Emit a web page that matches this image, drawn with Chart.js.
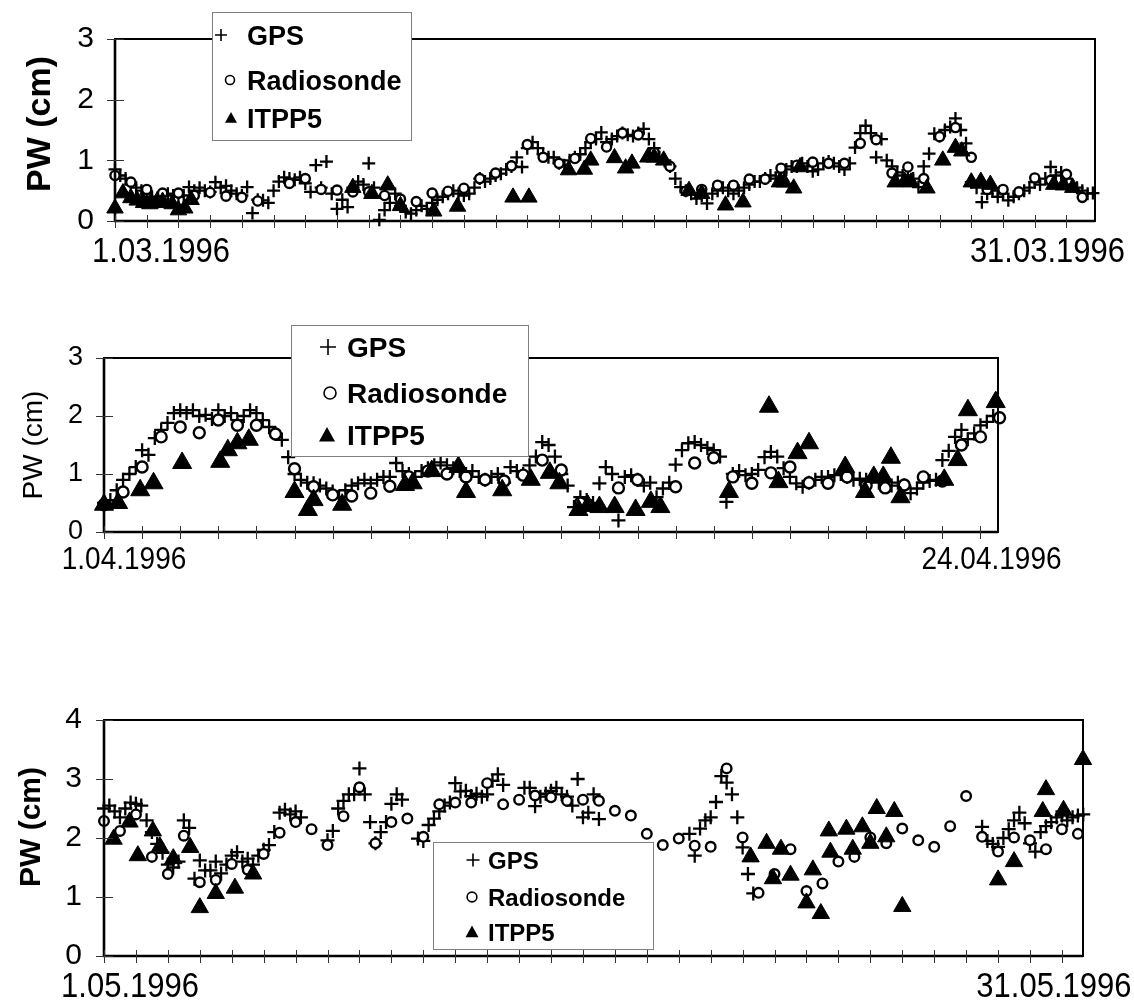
<!DOCTYPE html>
<html>
<head>
<meta charset="utf-8">
<title>PW: GPS, radiosonde and ITPP5, March-May 1996</title>
<script src="https://cdn.jsdelivr.net/npm/chart.js@4.4.1/dist/chart.umd.min.js"></script>
<style>
  html, body { margin: 0; padding: 0; background: #fff; }
  #page { position: relative; width: 1134px; height: 1003px; overflow: hidden; }
  #page canvas { position: absolute; left: 0; }
</style>
</head>
<body>
<div id="page">
  <canvas id="march" width="1134" height="290" style="top:0px"></canvas>
  <canvas id="april" width="1134" height="290" style="top:300px"></canvas>
  <canvas id="may" width="1134" height="323" style="top:680px"></canvas>
</div>
<script>
// x = days since the first of the month, y = precipitable water in cm
const GPS_STEP = 1 / 6;   // GPS solution every 4 hours
const SONDE_STEP = 0.5;   // radiosondes at 00 and 12 UTC

// ---------- March ----------
const marchGps = [
  0.85, 0.75, 0.70, 0.60, 0.55, 0.50,
  0.45, 0.40, 0.38, 0.42, 0.45, 0.42,
  0.40, 0.42, 0.56, 0.50, 0.55, 0.50,
  0.48, 0.64, 0.55, 0.58, 0.50, 0.45,
  0.42, 0.56, 0.13, 0.35, 0.34, 0.30,
  0.50, 0.65, 0.72, 0.70, 0.68, 0.72,
  0.62, 0.48, 0.92, 0.55, 0.98, 0.45,
  0.20, 0.35, 0.23, 0.55, 0.65, 0.60,
  0.95, 0.55, 0.02, 0.18, 0.30, 0.45,
  0.25, 0.15, 0.12, 0.18, 0.25, 0.20,
  0.30, 0.35, 0.40, 0.45, 0.50, 0.45,
  0.42, 0.45, 0.55, 0.70, 0.65, 0.70,
  0.75, 0.78, 0.85, 0.90, 1.05, 0.89,
  1.20, 1.30, 1.20, 1.10, 1.05, 1.05,
  0.95, 0.92, 1.00, 1.05, 1.10, 1.20,
  1.30, 1.35, 1.46, 1.30, 1.35, 1.40,
  1.45, 1.42, 1.40, 1.45, 1.52, 1.35,
  1.20, 1.05, 1.00, 0.90, 0.70, 0.56,
  0.50, 0.45, 0.37, 0.42, 0.29, 0.45,
  0.50, 0.55, 0.50, 0.45, 0.50, 0.55,
  0.60, 0.65, 0.65, 0.70, 0.75, 0.70,
  0.80, 0.85, 0.90, 0.90, 0.95, 0.90,
  0.82, 0.85, 0.95, 0.98, 0.95, 0.90,
  0.85, 0.95, 1.21, 1.45, 1.57, 1.45,
  1.05, 1.35, 1.00, 0.90, 0.80, 0.75,
  0.75, 0.70, 0.56, 0.90, 1.11, 1.44,
  1.40, 1.50, 1.55, 1.69, 1.50, 1.28,
  0.64, 0.55, 0.31, 0.45, 0.50, 0.40,
  0.45, 0.34, 0.40, 0.45, 0.50, 0.55,
  0.64, 0.60, 0.70, 0.89, 0.75, 0.80,
  0.70, 0.60, 0.55, 0.50, 0.45, 0.46
];
const marchSonde = [
  0.75, 0.64, 0.52, 0.46, 0.46, 0.42, 0.47, 0.41, 0.39, 0.33,
  null, 0.62, 0.70, 0.52, 0.51, 0.48, 0.48, 0.42, 0.36, 0.32,
  0.46, 0.49, 0.54, 0.70, 0.79, 0.91, 1.26, 1.05, 0.95, 1.03,
  1.36, 1.22, 1.45, 1.42, 1.13, 0.90, 0.49, 0.52, 0.59, 0.59,
  0.69, 0.69, 0.87, 0.92, 0.97, 0.95, 0.95, 1.28, 1.34, 0.79,
  0.89, 0.70, 1.39, 1.54, 1.05, 0.52, 0.52, 0.48, 0.71, 0.67,
  0.77, 0.39
];
const marchItppDay = [
  0, 0.25, 0.5, 0.7, 0.9, 1.1, 1.3, 1.5, 1.8, 2.0,
  2.2, 2.4, 7.5, 8.1, 8.6, 9.0, 10.05, 10.8, 12.55, 13.05,
  14.3, 14.8, 15.0, 15.75, 16.1, 16.3, 16.8, 17.0, 17.3, 18.1,
  18.5, 19.25, 19.8, 20.95, 21.1, 21.4, 21.6, 24.6, 24.9, 25.1,
  25.6, 26.1, 26.5, 26.7, 27.0, 27.3, 27.6, 29.6, 29.9, 30.2
];
const marchItpp = [
  0.21, 0.46, 0.38, 0.34, 0.30, 0.28, 0.30, 0.32, 0.28, 0.18,
  0.21, 0.35, 0.55, 0.45, 0.59, 0.25, 0.16, 0.24, 0.39, 0.39,
  0.84, 0.85, 1.00, 1.04, 0.87, 0.95, 1.05, 1.05, 1.00, 0.50,
  0.45, 0.26, 0.31, 0.64, 0.64, 0.54, 0.89, 0.64, 0.65, 0.64,
  0.54, 1.00, 1.21, 1.15, 0.64, 0.65, 0.60, 0.60, 0.59, 0.55
];
const marchTickDays = [0, 30];
const marchTickLabels = ['1.03.1996', '31.03.1996'];

// ---------- April ----------
const aprilGps = [
  0.50, 0.55, 0.72, 0.90, 1.00, 1.12,
  1.41, 1.33, 1.62, 1.76, 1.88, 2.05,
  2.10, 2.05, 2.10, 2.00, 2.02, 1.95,
  2.10, 2.00, 2.05, 1.93, 2.00, 2.10,
  2.05, 1.93, 1.81, 1.70, 1.59, 1.29,
  1.00, 0.90, 0.85, 0.84, 0.80, 0.75,
  0.70, 0.60, 0.72, 0.80, 0.84, 0.90,
  0.84, 0.90, 0.95, 0.95, 1.19, 1.05,
  1.00, 0.95, 1.05, 1.10, 1.15, 1.20,
  1.15, 1.10, 1.05, 1.00, 1.05, 0.95,
  0.90, 0.95, 1.00, 0.85, 1.12, 1.05,
  1.00, 1.15, 1.30, 1.55, 1.50, 1.30,
  1.00, 0.80, 0.43, 0.60, 0.55, 0.50,
  0.84, 1.12, 1.00, 0.20, 0.95, 0.98,
  0.90, 0.80, 0.85, 0.60, 0.75, 0.85,
  1.16, 1.41, 1.53, 1.55, 1.50, 1.45,
  1.41, 1.30, 0.52, 1.00, 1.05, 0.98,
  1.00, 1.07, 1.29, 1.38, 1.30, 1.10,
  0.95, 0.84, 0.78, 0.85, 0.90, 0.95,
  0.95, 0.98, 1.00, 0.95, 0.90, 0.92,
  0.90, 0.95, 0.85, 0.78, 0.80, 0.85,
  0.80, 0.67, 0.75, 0.85, 0.88, 0.90,
  1.24, 1.40, 1.64, 1.76, 1.60, 1.70,
  1.84, 1.90, 2.00
];
const aprilSonde = [
  0.47, 0.69, 1.12, 1.64, 1.81, 1.71, 1.93, 1.84, 1.84, 1.69,
  1.09, 0.78, 0.64, 0.62, 0.67, 0.79, 0.95, 1.05, 1.00, 0.95,
  0.90, 0.88, 0.98, 1.24, 1.07, 0.50, null, 0.76, 0.90, null,
  0.78, 1.19, 1.28, 0.95, 0.84, 1.02, 1.12, 0.85, 0.84, 0.95,
  0.80, 0.76, 0.81, 0.95, 0.88, 1.50, 1.64, 1.97
];
const aprilItppDay = [
  0, 0.37, 0.95, 1.3, 2.05, 3.05, 3.25, 3.5, 3.8, 5.0,
  5.35, 5.5, 6.25, 7.9, 8.1, 8.6, 9.3, 9.5, 10.45, 11.2,
  11.7, 11.95, 12.45, 12.7, 13.0, 13.4, 13.95, 14.35, 14.6, 16.4,
  17.45, 17.7, 18.2, 18.5, 19.45, 19.97, 20.2, 20.45, 20.65, 20.9,
  22.05, 22.4, 22.67, 23.4
];
const aprilItpp = [
  0.47, 0.50, 0.72, 0.84, 1.19, 1.21, 1.41, 1.53, 1.59, 0.69,
  0.38, 0.55, 0.47, 0.81, 0.84, 1.05, 1.12, 0.69, 0.72, 0.90,
  1.02, 0.84, 0.38, 0.45, 0.43, 0.43, 0.38, 0.52, 0.43, 0.69,
  2.16, 0.86, 1.36, 1.53, 1.12, 0.69, 0.95, 0.95, 1.28, 0.60,
  0.90, 1.24, 2.10, 2.24
];
const aprilTickDays = [0, 23];
const aprilTickLabels = ['1.04.1996', '24.04.1996'];

// ---------- May ----------
const mayGps = [
  2.50, 2.55, 2.45, 2.35, 2.50, 2.60,
  2.58, 2.55, 2.30, 2.10, 1.90, 1.75,
  1.55, 1.50, 1.60, 2.30, 2.17, 1.31,
  1.62, 1.45, 1.45, 1.60, 1.40, 1.55,
  1.70, 1.76, 1.60, 1.65, 1.55, 1.70,
  1.80, 1.88, 2.10, 2.43, 2.48, 2.40,
  2.45, 2.35, null, null, null, null,
  1.96, 2.12, 2.50, 2.63, 2.74, 2.74,
  3.18, 2.74, 2.27, 1.91, 2.10, 2.27,
  2.58, 2.74, 2.65, null, null, 1.99,
  1.95, 2.22, 2.33, 2.45, 2.55, 2.60,
  2.93, 2.79, 2.80, 2.71, 2.75, 2.70,
  2.74, 2.97, 3.08, 2.90, null, null,
  null, 2.85, 2.85, 2.54, 2.70, 2.75,
  2.80, 2.85, 2.74, 2.70, 2.55, 3.00,
  2.35, 2.43, 2.74, 2.32, null, null,
  null, null, null, null, null, null,
  null, null, null, null, null, null,
  null, null, 2.07, 1.70, 2.16, 2.30,
  2.35, 2.61, 3.05, 2.94, 2.74, 2.35,
  1.84, 1.39, 1.06, null, null, null,
  null, null, null, null, null, null,
  null, null, null, null, null, null,
  null, null, null, null, null, null,
  null, null, null, null, null, null,
  null, null, null, null, null, null,
  null, null, null, null, null, null,
  null, null, null, 2.19, 1.95, 1.90,
  1.85, 2.00, 2.15, 2.30, 2.43, 2.25,
  1.91, 1.77, 2.10, 2.20, 2.27, 2.35,
  2.38, 2.30, 2.35, 2.38, 2.40
];
const maySonde = [
  2.29, 2.12, 2.40, 1.68, 1.39, 2.04, 1.25, 1.29, 1.56, 1.46,
  1.73, 2.09, 2.27, 2.15, 1.88, 2.37, 2.86, 1.91, 2.27, 2.33,
  2.02, 2.57, 2.60, 2.60, 2.93, 2.57, 2.65, 2.72, 2.69, 2.63,
  2.65, 2.63, 2.46, 2.38, 2.07, 1.88, 1.99, 1.87, 1.85, 3.18,
  2.01, 1.07, 1.39, 1.81, 1.10, 1.23, 1.60, 1.68, 2.01, 1.91,
  2.16, 1.96, 1.85, 2.20, 2.71, 2.02, 1.77, 2.01, 1.96, 1.81,
  2.15, 2.07
];
const mayItppDay = [
  0.3, 0.8, 1.06, 1.53, 1.75, 2.17, 2.7, 3.0, 3.5, 4.1,
  4.67, 20.25, 20.75, 20.95, 21.2, 21.5, 22.0, 22.2, 22.45, 22.7,
  22.75, 23.25, 23.45, 23.75, 24.0, 24.2, 24.5, 24.75, 25.0, 28.0,
  28.5, 29.4, 29.5, 30.05, 30.66
];
const mayItpp = [
  1.98, 2.27, 1.70, 2.12, 1.85, 1.65, 1.84, 0.82, 1.06, 1.15,
  1.39, 1.68, 1.91, 1.31, 1.81, 1.37, 0.90, 1.46, 0.72, 2.12,
  1.76, 2.15, 1.81, 2.19, 1.91, 2.50, 2.02, 2.45, 0.84, 1.29,
  1.60, 2.45, 2.82, 2.47, 3.33
];
const mayTickDays = [0, 30];
const mayTickLabels = ['1.05.1996', '31.05.1996'];

const seriesNames = ['GPS', 'Radiosonde', 'ITPP5'];

// ---------- drawing ----------
const FONT = "'Liberation Sans', Arial, Helvetica, sans-serif";
Chart.defaults.font.family = FONT;
Chart.defaults.color = '#000';

function regular(values, step) {
  const pts = [];
  values.forEach((v, i) => { if (v !== null) pts.push({ x: i * step, y: v }); });
  return pts;
}
function paired(days, values) {
  return days.map((d, i) => ({ x: d, y: values[i] }));
}

function drawSymbol(ctx, style, cx, cy, s) {
  ctx.beginPath();
  if (style === 'cross') {
    ctx.lineWidth = 1.6;
    ctx.moveTo(cx - s, cy); ctx.lineTo(cx + s, cy);
    ctx.moveTo(cx, cy - s); ctx.lineTo(cx, cy + s);
    ctx.stroke();
  } else if (style === 'circle') {
    ctx.lineWidth = 1.6;
    ctx.arc(cx, cy, s * 0.75, 0, Math.PI * 2);
    ctx.stroke();
  } else {
    ctx.moveTo(cx, cy - s);
    ctx.lineTo(cx + s, cy + s * 0.8);
    ctx.lineTo(cx - s, cy + s * 0.8);
    ctx.closePath();
    ctx.fill();
  }
}

// frame, tick marks crossing the axes, axis title, date labels and the boxed legend
const panelDecor = {
  id: 'panelDecor',
  afterDraw(chart, args, o) {
    const { ctx, chartArea: a } = chart;
    const x = chart.scales.x, y = chart.scales.y;
    ctx.save();
    ctx.strokeStyle = '#000';
    ctx.lineWidth = 2;
    ctx.strokeRect(a.left, a.top, a.right - a.left, a.bottom - a.top);
    ctx.lineWidth = 2.6;
    ctx.beginPath();
    ctx.moveTo(a.left, a.top); ctx.lineTo(a.left, a.bottom); ctx.lineTo(a.right, a.bottom);
    ctx.stroke();

    ctx.lineWidth = 1;
    ctx.strokeStyle = '#333';
    ctx.beginPath();
    for (let d = Math.ceil(x.min); d <= x.max; d++) {
      const px = Math.round(x.getPixelForValue(d)) + 0.5;
      ctx.moveTo(px, a.bottom - 6); ctx.lineTo(px, a.bottom + 7);
    }
    y.ticks.forEach(t => {
      const py = Math.round(y.getPixelForValue(t.value)) + 0.5;
      ctx.moveTo(a.left - 8, py); ctx.lineTo(a.left + 9, py);
    });
    ctx.stroke();

    ctx.fillStyle = '#000';
    ctx.save();
    ctx.font = `${o.title.weight} ${o.title.size}px ${FONT}`;
    ctx.translate(o.title.x, o.title.y);
    ctx.rotate(-Math.PI / 2);
    ctx.textAlign = 'center';
    ctx.textBaseline = 'alphabetic';
    ctx.fillText('PW (cm)', 0, 0);
    ctx.restore();

    ctx.font = `${o.dates.size}px ${FONT}`;
    ctx.textAlign = 'center';
    ctx.textBaseline = 'alphabetic';
    o.dates.days.forEach((d, i) => {
      ctx.save();
      ctx.translate(x.getPixelForValue(d) + o.dates.dx[i], o.dates.baseline);
      ctx.scale(1, 1.12);
      ctx.fillText(o.dates.labels[i], 0, 0);
      ctx.restore();
    });

    const L = o.legend;
    ctx.fillStyle = '#fff';
    ctx.fillRect(L.x, L.y, L.w, L.h);
    ctx.strokeStyle = '#808080';
    ctx.lineWidth = 1;
    ctx.strokeRect(L.x + 0.5, L.y + 0.5, L.w, L.h);
    ctx.fillStyle = '#000';
    ctx.strokeStyle = '#000';
    ctx.font = `bold ${L.size}px ${FONT}`;
    ctx.textAlign = 'left';
    chart.data.datasets.forEach((ds, i) => {
      drawSymbol(ctx, ds.pointStyle, L.symX[i], L.rows[i], L.sym);
      ctx.fillText(ds.label, L.textX, L.rows[i] + 0.36 * L.size);
    });
    ctx.restore();
  }
};

function makePanel(id, gps, sonde, itpp, look) {
  const canvas = document.getElementById(id);
  const m = look.marker;
  return new Chart(canvas, {
    type: 'scatter',
    data: {
      datasets: [
        { label: seriesNames[0], data: gps, order: 2, clip: false,
          pointStyle: 'cross', pointRadius: m.cross, borderWidth: 2.3,
          borderColor: '#000', backgroundColor: '#000' },
        { label: seriesNames[1], data: sonde, order: 1, clip: false,
          pointStyle: 'circle', pointRadius: m.circle, borderWidth: 2.4,
          borderColor: '#000', backgroundColor: '#fff' },
        { label: seriesNames[2], data: itpp, order: 0, clip: false,
          pointStyle: 'triangle', pointRadius: m.triangle, borderWidth: 1,
          borderColor: '#000', backgroundColor: '#000' }
      ]
    },
    options: {
      responsive: false,
      animation: false,
      events: [],
      layout: { padding: { left: 0, top: look.area.top, right: canvas.width - look.area.right,
                           bottom: canvas.height - look.area.bottom } },
      plugins: {
        legend: { display: false },
        tooltip: { enabled: false },
        panelDecor: look.decor
      },
      scales: {
        x: { type: 'linear', display: false, min: 0, max: look.xMax },
        y: {
          min: 0, max: look.yMax,
          afterFit: s => { s.width = look.area.left; },
          grid: { display: false, drawTicks: false },
          border: { display: false },
          ticks: { stepSize: 1, padding: look.tickPad, color: '#000',
                   font: { family: FONT, size: look.tickSize } }
        }
      }
    },
    plugins: [panelDecor]
  });
}

makePanel('march',
  regular(marchGps, GPS_STEP), regular(marchSonde, SONDE_STEP), paired(marchItppDay, marchItpp), {
  area: { left: 115, right: 1095, top: 38, bottom: 221 },
  xMax: 30.9, yMax: 3, tickSize: 30, tickPad: 21,
  marker: { cross: 6.5, circle: 4.6, triangle: 9.5 },
  decor: {
    title: { x: 50, y: 124, size: 34, weight: 'bold' },
    dates: { days: marchTickDays, labels: marchTickLabels, dx: [46, -19], baseline: 262, size: 31 },
    legend: { x: 212, y: 12, w: 199, h: 128, symX: [221, 230, 231], textX: 247,
              rows: [35, 80, 118], size: 27, sym: 6 }
  }
});

makePanel('april',
  regular(aprilGps, GPS_STEP), regular(aprilSonde, SONDE_STEP), paired(aprilItppDay, aprilItpp), {
  area: { left: 104, right: 998, top: 58, bottom: 232 },
  xMax: 23.46, yMax: 3, tickSize: 27, tickPad: 21,
  marker: { cross: 7, circle: 5.5, triangle: 11 },
  decor: {
    title: { x: 42, y: 145, size: 28, weight: 'normal' },
    dates: { days: aprilTickDays, labels: aprilTickLabels, dx: [20, 11], baseline: 269, size: 28 },
    legend: { x: 291, y: 25, w: 237, h: 131, symX: [328, 330, 327], textX: 347,
              rows: [47, 93, 135], size: 28, sym: 8 }
  }
});

makePanel('may',
  regular(mayGps, GPS_STEP), regular(maySonde, SONDE_STEP), paired(mayItppDay, mayItpp), {
  area: { left: 104, right: 1083, top: 19, bottom: 276 },
  xMax: 30.66, yMax: 4, tickSize: 30, tickPad: 22,
  marker: { cross: 7, circle: 4.8, triangle: 10 },
  decor: {
    title: { x: 40, y: 147, size: 30, weight: 'bold' },
    dates: { days: mayTickDays, labels: mayTickLabels, dx: [26, -8], baseline: 317, size: 31 },
    legend: { x: 433, y: 162, w: 220, h: 107, symX: [473, 472, 472], textX: 488,
              rows: [180, 217, 252], size: 24, sym: 6.5 }
  }
});
</script>
</body>
</html>
